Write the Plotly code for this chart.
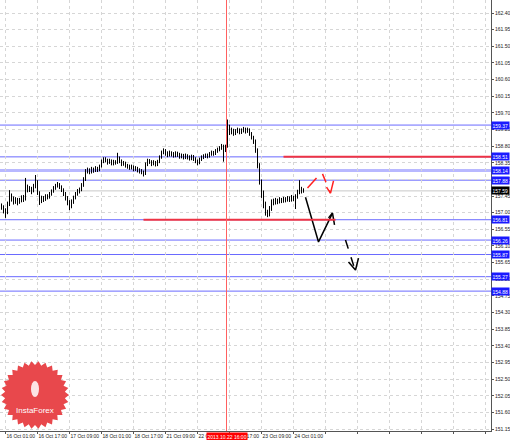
import math
import plotly.graph_objects as go

# ---------------- data ----------------
bar_index = list(range(-2, 150))
first_open = 157.20
closes = [157.16, 157.05, 157.00, 157.22, 157.45, 157.38, 157.30, 157.36, 157.28, 157.33,
          157.40, 157.35, 157.70, 157.62, 157.66, 157.58, 157.70, 157.85, 157.55, 157.30,
          157.40, 157.35, 157.45, 157.42, 157.50, 157.58, 157.66, 157.72, 157.78, 157.70,
          157.62, 157.52, 157.40, 157.30, 157.22, 157.28, 157.40, 157.50, 157.58, 157.62,
          157.75, 157.90, 158.12, 158.15, 158.10, 158.18, 158.14, 158.20, 158.16, 158.25,
          158.38, 158.45, 158.42, 158.36, 158.40, 158.33, 158.38, 158.35, 158.48, 158.40,
          158.32, 158.35, 158.28, 158.25, 158.22, 158.24, 158.18, 158.20, 158.15, 158.12,
          158.10, 158.05, 158.30, 158.40, 158.38, 158.32, 158.36, 158.30, 158.38, 158.50,
          158.62, 158.68, 158.60, 158.56, 158.62, 158.58, 158.55, 158.60, 158.57, 158.52,
          158.55, 158.50, 158.54, 158.50, 158.47, 158.52, 158.46, 158.40, 158.35, 158.44,
          158.50, 158.52, 158.55, 158.53, 158.58, 158.62, 158.60, 158.66, 158.70, 158.74,
          158.80, 158.70, 158.78, 159.30, 159.18, 159.22, 159.15, 159.20, 159.24, 159.18,
          159.22, 159.26, 159.20, 159.24, 159.15, 159.05, 158.95, 158.70, 158.30, 157.85,
          157.55, 157.25, 157.00, 156.95, 157.10, 157.30, 157.28, 157.32, 157.30, 157.35,
          157.32, 157.36, 157.34, 157.38, 157.36, 157.40, 157.38, 157.42, 157.55, 157.65,
          157.60, 157.59]
highs = [157.25, 157.20, 157.12, 157.30, 157.61, 157.52, 157.44, 157.42, 157.40, 157.40,
         157.47, 157.48, 157.94, 157.76, 157.72, 157.70, 157.78, 158.02, 157.88, 157.58,
         157.46, 157.45, 157.50, 157.50, 157.56, 157.63, 157.72, 157.78, 157.83, 157.80,
         157.74, 157.66, 157.56, 157.45, 157.34, 157.36, 157.46, 157.56, 157.64, 157.68,
         157.80, 157.96, 158.18, 158.22, 158.20, 158.24, 158.22, 158.26, 158.24, 158.30,
         158.44, 158.50, 158.50, 158.46, 158.46, 158.44, 158.43, 158.42, 158.62, 158.52,
         158.44, 158.40, 158.38, 158.32, 158.30, 158.30, 158.28, 158.26, 158.24, 158.20,
         158.18, 158.14, 158.36, 158.46, 158.45, 158.42, 158.42, 158.40, 158.43, 158.55,
         158.68, 158.74, 158.72, 158.66, 158.68, 158.66, 158.64, 158.66, 158.65, 158.62,
         158.60, 158.59, 158.60, 158.58, 158.55, 158.57, 158.56, 158.50, 158.44, 158.49,
         158.55, 158.58, 158.60, 158.60, 158.64, 158.68, 158.67, 158.72, 158.76, 158.80,
         158.86, 158.84, 158.84, 159.52, 159.38, 159.30, 159.27, 159.26, 159.30, 159.28,
         159.28, 159.32, 159.30, 159.30, 159.28, 159.18, 159.08, 158.98, 158.74, 158.34,
         157.90, 157.60, 157.30, 157.08, 157.18, 157.36, 157.38, 157.40, 157.38, 157.42,
         157.40, 157.43, 157.42, 157.45, 157.44, 157.48, 157.46, 157.50, 157.62, 157.88,
         157.70, 157.66]
lows = [157.08, 156.98, 156.86, 156.96, 157.18, 157.30, 157.22, 157.24, 157.20, 157.24,
        157.28, 157.29, 157.33, 157.55, 157.56, 157.50, 157.55, 157.66, 157.48, 157.21,
        157.26, 157.29, 157.32, 157.36, 157.38, 157.46, 157.54, 157.62, 157.68, 157.64,
        157.56, 157.45, 157.33, 157.20, 157.07, 157.12, 157.24, 157.36, 157.46, 157.52,
        157.58, 157.70, 157.86, 158.06, 158.04, 158.06, 158.08, 158.10, 158.10, 158.12,
        158.22, 158.34, 158.36, 158.30, 158.32, 158.28, 158.28, 158.30, 158.32, 158.34,
        158.26, 158.27, 158.22, 158.19, 158.16, 158.17, 158.12, 158.13, 158.09, 158.06,
        158.04, 157.98, 158.02, 158.26, 158.32, 158.26, 158.28, 158.25, 158.26, 158.34,
        158.46, 158.58, 158.54, 158.50, 158.52, 158.52, 158.49, 158.50, 158.51, 158.46,
        158.47, 158.44, 158.45, 158.44, 158.41, 158.42, 158.40, 158.34, 158.28, 158.31,
        158.40, 158.45, 158.48, 158.47, 158.49, 158.54, 158.54, 158.56, 158.62, 158.66,
        158.70, 158.38, 158.64, 158.76, 159.10, 159.12, 159.08, 159.10, 159.15, 159.12,
        159.13, 159.17, 159.14, 159.16, 159.08, 158.98, 158.86, 158.62, 158.20, 157.76,
        157.40, 157.12, 156.92, 156.88, 156.90, 157.05, 157.20, 157.22, 157.23, 157.25,
        157.26, 157.27, 157.28, 157.30, 157.29, 157.30, 157.31, 157.10, 157.38, 157.50,
        157.52, 157.54]
opens = [first_open] + closes[:-1]

x_tick_labels = ["16 Oct 01:00", "16 Oct 17:00", "17 Oct 09:00", "18 Oct 01:00",
                 "18 Oct 17:00", "21 Oct 09:00", "22 Oct 01:00", "22 Oct 17:00",
                 "23 Oct 09:00", "24 Oct 01:00"]
x_grid_bars = [0, 16, 32, 48, 64, 80, 96, 112, 128, 144, 160, 176, 192, 208, 224, 240]

y_tick_labels = ["162.40", "161.95", "161.50", "161.05", "160.60", "160.15", "159.70",
                 "159.25", "158.80", "158.35", "157.90", "157.45", "157.00", "156.55",
                 "156.10", "155.65", "155.20", "154.75", "154.30", "153.85", "153.40",
                 "152.95", "152.50", "152.05", "151.60", "151.15"]

blue_levels = [159.37, 158.51, 157.88, 156.81, 156.26, 155.87, 155.27, 154.88]
light_level = 158.14
current_price = 157.59
red_seg_levels = [158.51, 156.81]
red_seg_start = [139, 69]
red_seg_end = [243, 165]
cursor_bar = 110.5
cursor_label = "2013.10.22 16:00"

# forecast sketches (bar index, price)
red_solid_x = [151, 155.5]
red_solid_y = [157.67, 157.94]
red_dash_x = [158.5, 162.5]
red_dash_y = [158.05, 157.53]
red_head_x = [160.5, 162.5, 164]
red_head_y = [157.69, 157.53, 157.86]
black_solid_x = [150, 156.5, 163.5]
black_solid_y = [157.42, 156.21, 156.99]
black_head1_x = [161.5, 163.5, 164.5]
black_head1_y = [156.86, 156.99, 156.67]
black_dash_x = [170, 174.5]
black_dash_y = [156.26, 155.50]
black_head2_x = [171.5, 175, 176.5]
black_head2_y = [155.67, 155.45, 155.77]

# ---------------- figure ----------------
W, H = 510, 440
ML, MR, MT, MB = 0, 19, 0, 9
PW, PH = W - ML - MR, H - MT - MB
X0, X1 = -2.75, 242.75
Y0, Y1 = 151.097, 162.752

fig = go.Figure()

fig.add_trace(go.Ohlc(
    x=bar_index, open=opens, high=highs, low=lows, close=closes,
    increasing=dict(line=dict(color="black", width=1)),
    decreasing=dict(line=dict(color="black", width=1)),
    tickwidth=0.25, showlegend=False, hoverinfo="skip"))

def line(xs, ys, color, dash="solid", width=1.5):
    fig.add_trace(go.Scatter(x=xs, y=ys, mode="lines", showlegend=False,
                             hoverinfo="skip",
                             line=dict(color=color, width=width, dash=dash)))

RED = "#ff2020"
line(red_solid_x, red_solid_y, RED)
line(red_dash_x, red_dash_y, RED, dash="dash")
line(red_head_x, red_head_y, RED)
line(black_solid_x, black_solid_y, "black")
line(black_head1_x, black_head1_y, "black")
line(black_dash_x, black_dash_y, "black", dash="dash")
line(black_head2_x, black_head2_y, "black")

shapes = []
annotations = []
FONT = "Liberation Sans"
FS = 5

shapes.append(dict(type="line", xref="paper", x0=0, x1=1, yref="y",
                   y0=current_price, y1=current_price,
                   line=dict(color="#c8c8c8", width=1), layer="below"))
shapes.append(dict(type="line", xref="paper", x0=0, x1=1, yref="y",
                   y0=light_level, y1=light_level,
                   line=dict(color="#b8b8ff", width=3), layer="below"))
for lv in blue_levels:
    shapes.append(dict(type="line", xref="paper", x0=0, x1=1, yref="y",
                       y0=lv, y1=lv, line=dict(color="#6a6aff", width=1),
                       layer="below"))
for lv, a, b in zip(red_seg_levels, red_seg_start, red_seg_end):
    shapes.append(dict(type="line", xref="x", x0=a, x1=b, yref="y",
                       y0=lv, y1=lv, line=dict(color="#ee3344", width=2)))
shapes.append(dict(type="line", xref="x", x0=cursor_bar, x1=cursor_bar,
                   yref="paper", y0=0, y1=1,
                   line=dict(color="#ff6060", width=1)))

for lv in blue_levels + [light_level]:
    annotations.append(dict(xref="paper", x=1, xanchor="left", xshift=0,
                            yref="y", y=lv, yanchor="middle",
                            text=f"{lv:.2f}", showarrow=False,
                            bgcolor="#1a1aff", borderpad=0.5,
                            font=dict(family=FONT, size=FS, color="white")))
annotations.append(dict(xref="paper", x=1, xanchor="left", yref="y",
                        y=current_price, yanchor="middle",
                        text=f"{current_price:.2f}", showarrow=False,
                        bgcolor="black", borderpad=0.5,
                        font=dict(family=FONT, size=FS, color="white")))
annotations.append(dict(xref="x", x=cursor_bar, xanchor="center",
                        yref="paper", y=0, yanchor="top", yshift=-1,
                        text=cursor_label, showarrow=False,
                        bgcolor="#ff0000", borderpad=0.5,
                        font=dict(family=FONT, size=FS, color="white")))

def px2paper(px, py):
    return (px - ML) / PW, 1 - (py - MT) / PH

cx, cy, R_out, R_in, N = 35, 395, 34, 30, 30
pts = []
for k in range(2 * N):
    r = R_out if k % 2 == 0 else R_in
    ang = math.pi * k / N
    pts.append(px2paper(cx + r * math.cos(ang), cy + r * math.sin(ang)))
path = "M " + " L ".join(f"{p[0]:.5f},{p[1]:.5f}" for p in pts) + " Z"
shapes.append(dict(type="path", xref="paper", yref="paper", path=path,
                   fillcolor="#e8484c", line=dict(width=0), layer="above"))
ex0, ey0 = px2paper(31, 381)
ex1, ey1 = px2paper(39, 397)
shapes.append(dict(type="circle", xref="paper", yref="paper",
                   x0=ex0, x1=ex1, y0=ey1, y1=ey0,
                   fillcolor="rgba(255,255,255,0.85)", line=dict(width=0)))
tx, ty = px2paper(35, 410)
annotations.append(dict(xref="paper", yref="paper", x=tx, y=ty,
                        xanchor="center", yanchor="middle",
                        text="InstaForex", showarrow=False,
                        font=dict(family=FONT, size=8, color="white")))

x_tick_text = x_tick_labels + [""] * (len(x_grid_bars) - len(x_tick_labels))
y_tick_vals = [float(t) for t in y_tick_labels]

fig.update_layout(
    width=W, height=H,
    margin=dict(l=ML, r=MR, t=MT, b=MB, pad=0, autoexpand=False),
    paper_bgcolor="white", plot_bgcolor="white",
    showlegend=False,
    shapes=shapes, annotations=annotations,
    xaxis=dict(range=[X0, X1], tickmode="array", tickvals=x_grid_bars,
               ticktext=x_tick_text, ticks="outside", ticklen=2, tickangle=0,
               tickcolor="#555", ticklabelposition="outside right",
               tickfont=dict(family=FONT, size=FS, color="#222"),
               showgrid=True, gridcolor="#d6d6d6", griddash="dot",
               showline=True, linecolor="#555", linewidth=1, automargin=False,
               zeroline=False, rangeslider=dict(visible=False), fixedrange=True),
    yaxis=dict(range=[Y0, Y1], side="right", tickmode="array",
               tickvals=y_tick_vals, ticktext=y_tick_labels,
               ticks="outside", ticklen=2, tickcolor="#555", automargin=False,
               tickfont=dict(family=FONT, size=FS, color="#222"),
               showgrid=True, gridcolor="#d6d6d6", griddash="dot",
               showline=True, linecolor="#555", linewidth=1,
               zeroline=False, fixedrange=True),
)

fig.write_html(
    "out.html",
    config={"displayModeBar": False, "staticPlot": True},
    post_script=(
        "document.body.style.margin='0';document.body.style.overflow='hidden';"
    ),
)
